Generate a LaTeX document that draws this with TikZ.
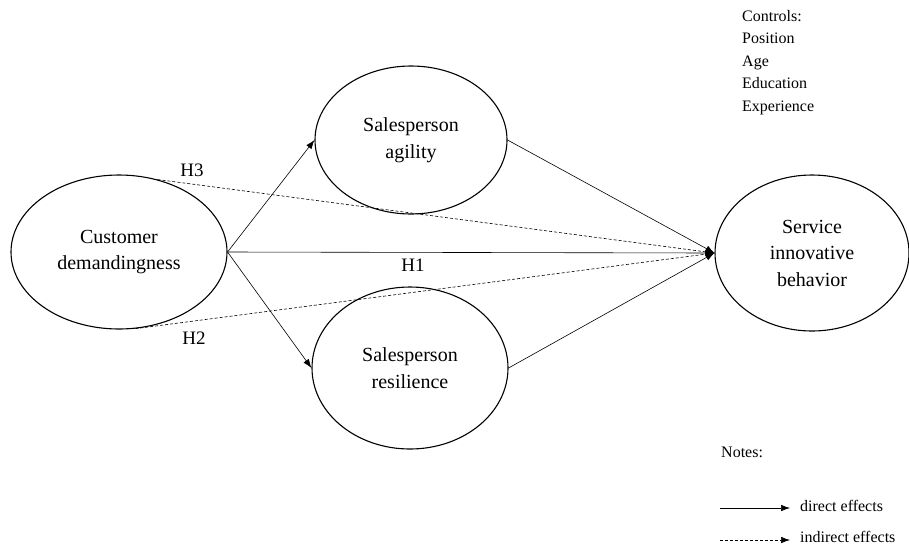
\documentclass[tikz,border=0pt]{standalone}
\usepackage{fontspec}
\setmainfont{Liberation Serif}
\usetikzlibrary{shapes.geometric,arrows.meta}
\begin{document}
\begin{tikzpicture}[x=1pt,y=-1pt,
  construct/.style={draw,ellipse,line width=1.1pt,inner sep=0pt,align=center,
    font=\fontsize{20}{26.5}\selectfont},
  txt/.style={inner sep=0pt,font=\fontsize{16}{22.5}\selectfont},
  hlabel/.style={inner sep=0pt,font=\fontsize{19}{22}\selectfont},
  direct/.style={line width=0.6pt,-{Latex[length=9pt,width=6.5pt]}},
  indirect/.style={line width=0.6pt,dash pattern=on 3pt off 2pt,-{Latex[length=9pt,width=6.5pt]}}]
\useasboundingbox (0,0) rectangle (909,547);

\node[construct,minimum width=216pt,minimum height=154pt] (cust) at (119,252) {Customer\\demandingness};
\node[construct,minimum width=192pt,minimum height=148pt] (agil) at (411,140) {Salesperson\\agility};
\node[construct,minimum width=196pt,minimum height=162pt] (resil) at (410,368) {Salesperson\\resilience};
\node[construct,minimum width=194pt,minimum height=156pt] (serv) at (812,253) {Service\\innovative\\behavior};

\draw[direct] (cust.east) -- (agil.west);
\draw[direct] (cust.east) -- (resil.west);
\draw[direct] (cust.east) -- (serv.west);
\draw[direct] (agil.east) -- (serv.west);
\draw[direct] (resil.east) -- (serv.west);
\draw[indirect] (cust.62) -- (serv.west);
\draw[indirect] (cust.-78) -- (serv.west);

\node[hlabel] (h3) at (192,170) {H3};
\node[hlabel] (h2) at (194,338) {H2};
\node[hlabel] (h1) at (413,265) {H1};

\node[txt,anchor=north west,align=left] (ctrl) at (742,10) {Controls:\\Position\\Age\\Education\\Experience};

\node[txt,anchor=west] (notes) at (721,452) {Notes:};
\coordinate (d1) at (720,508);
\coordinate (d2) at (790,508);
\coordinate (i1) at (720,540);
\coordinate (i2) at (790,540);
\draw[direct] (d1) -- (d2);
\draw[indirect] (i1) -- (i2);
\node[txt,anchor=west] (dtext) at (800,506) {direct effects};
\node[txt,anchor=west] (itext) at (800,537) {indirect effects};
\end{tikzpicture}
\end{document}
